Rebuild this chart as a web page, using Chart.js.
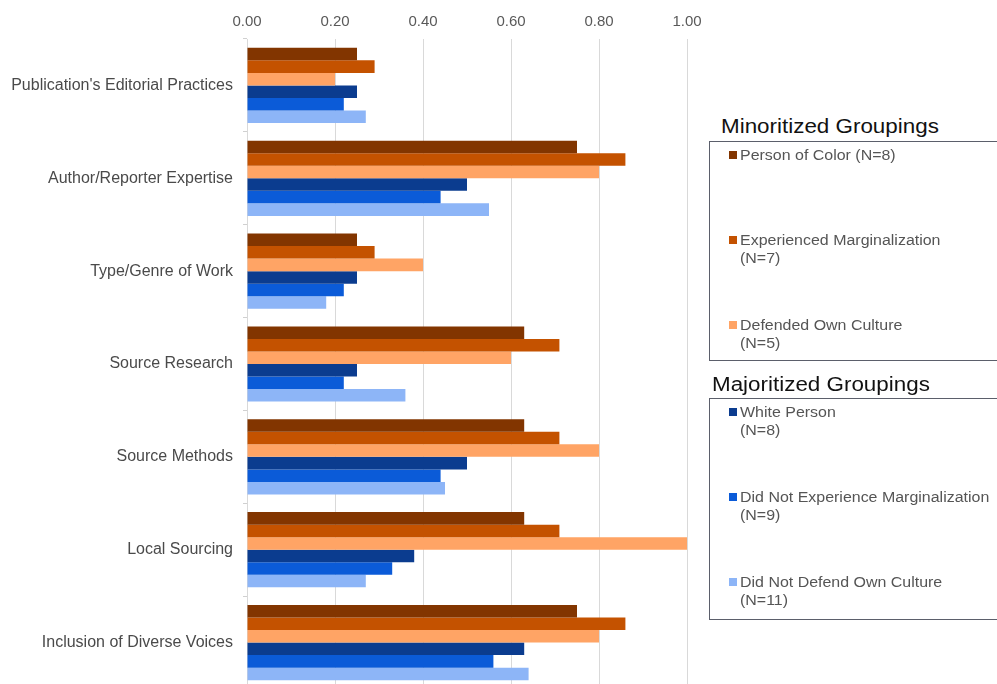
<!DOCTYPE html>
<html>
<head>
<meta charset="utf-8">
<script src="https://cdn.jsdelivr.net/npm/chart.js@4.4.1/dist/chart.umd.min.js"></script>
<style>
  html, body { margin: 0; padding: 0; background: #fff; overflow: hidden; }
  body { width: 997px; height: 684px; position: relative; font-family: "Liberation Sans", Arial, sans-serif; }
  #wrap { position: absolute; left: 0; top: 0; width: 710px; height: 689px; }
  .title { position: absolute; font-size: 20px; color: #111; white-space: nowrap; transform: scaleX(1.12); transform-origin: left center; }
  .box { position: absolute; left: 709px; width: 300px; border: 1px solid #5b5f6b; box-sizing: border-box; }
  .item { position: absolute; font-size: 14px; line-height: 18px; color: #555; white-space: nowrap; }
  .txt { transform: scaleX(1.14); transform-origin: left center; }
  .mark { position: absolute; left: -11px; top: 5px; width: 8px; height: 8px; }
</style>
</head>
<body>
<div id="wrap"><canvas id="chart"></canvas></div>
<div class="title" style="left:721px; top:115px;">Minoritized Groupings</div>
<div class="box" id="boxMin" style="top:141px; height:220px;"></div>
<div class="title" style="left:712px; top:373px;">Majoritized Groupings</div>
<div class="box" id="boxMaj" style="top:398px; height:222px;"></div>
<script>
const categories = [
  "Publication's Editorial Practices",
  "Author/Reporter Expertise",
  "Type/Genre of Work",
  "Source Research",
  "Source Methods",
  "Local Sourcing",
  "Inclusion of Diverse Voices"
];

const tickValues = [0, 0.2, 0.4, 0.6, 0.8, 1.0];

const seriesNames = [
  ["Person of Color (N=8)"],
  ["Experienced Marginalization", "(N=7)"],
  ["Defended Own Culture", "(N=5)"],
  ["White Person", "(N=8)"],
  ["Did Not Experience Marginalization", "(N=9)"],
  ["Did Not Defend Own Culture", "(N=11)"]
];

const personOfColor = [0.25, 0.75, 0.25, 0.63, 0.63, 0.63, 0.75];
const experiencedMarg = [0.29, 0.86, 0.29, 0.71, 0.71, 0.71, 0.86];
const defendedCulture = [0.20, 0.80, 0.40, 0.60, 0.80, 1.00, 0.80];
const whitePerson = [0.25, 0.50, 0.25, 0.25, 0.50, 0.38, 0.63];
const notExperiencedMarg = [0.22, 0.44, 0.22, 0.22, 0.44, 0.33, 0.56];
const notDefendedCulture = [0.27, 0.55, 0.18, 0.36, 0.45, 0.27, 0.64];

const seriesValues = [personOfColor, experiencedMarg, defendedCulture, whitePerson, notExperiencedMarg, notDefendedCulture];
const colors = ["#823500", "#c45200", "#ffa465", "#0b3c8f", "#0b5bd8", "#8db5f7"];

// legend boxes
const groups = [["boxMin", [0, 1, 2]], ["boxMaj", [3, 4, 5]]];
groups.forEach(([id, idx]) => {
  const box = document.getElementById(id);
  idx.forEach((s, i) => {
    const it = document.createElement("div");
    it.className = "item";
    it.style.top = (4 + i * 85) + "px";
    it.style.left = "30px";
    const t = document.createElement("div");
    t.className = "txt";
    t.innerHTML = seriesNames[s].join("<br>");
    it.appendChild(t);
    const m = document.createElement("div");
    m.className = "mark";
    m.style.background = colors[s];
    it.appendChild(m);
    box.appendChild(it);
  });
});

Chart.defaults.font.family = '"Liberation Sans", Arial, sans-serif';
Chart.defaults.color = "#555";

new Chart(document.getElementById("chart"), {
  type: "bar",
  data: {
    labels: categories,
    datasets: seriesValues.map((vals, i) => ({
      label: seriesNames[i].join(" "),
      data: vals,
      backgroundColor: colors[i],
      categoryPercentage: 0.81,
      barPercentage: 1.0
    }))
  },
  options: {
    indexAxis: "y",
    responsive: true,
    maintainAspectRatio: false,
    animation: false,
    layout: { padding: { left: 0, right: 23, top: 0, bottom: 0 } },
    plugins: { legend: { display: false }, tooltip: { enabled: false } },
    scales: {
      x: {
        position: "top",
        min: 0,
        max: 1,
        afterBuildTicks: s => { s.ticks = tickValues.map(v => ({ value: v })); },
        afterFit: s => { s.height = 39; s.paddingLeft = 0; s.paddingRight = 0; },
        ticks: {
          padding: 8,
          font: { size: 15 },
          color: "#595959",
          callback: v => Number(v).toFixed(2)
        },
        grid: { color: "#d9d9d9", drawTicks: false, lineWidth: 1 },
        border: { display: false }
      },
      y: {
        afterFit: s => { s.width = 247; s.paddingTop = 0; s.paddingBottom = 0; },
        ticks: { padding: 10, font: { size: 16 }, color: "#4a4a4a" },
        grid: { drawOnChartArea: false, tickLength: 4, color: "#d0d0d0", offset: true },
        border: { display: true, color: "#d9d9d9" }
      }
    }
  }
});
</script>
</body>
</html>
